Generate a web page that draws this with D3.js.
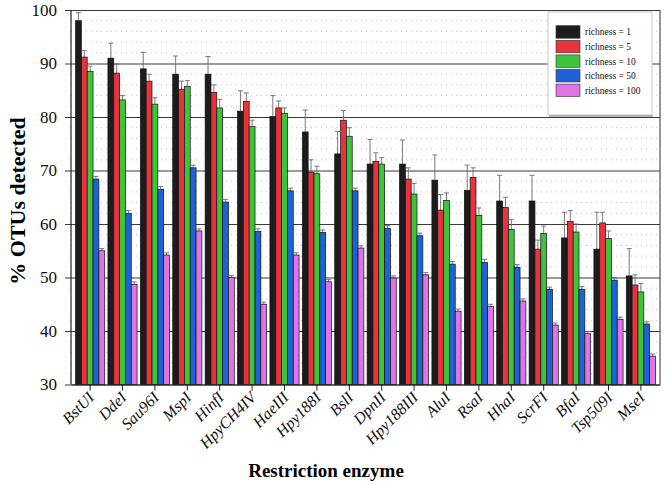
<!DOCTYPE html>
<html>
<head>
<meta charset="utf-8">
<script src="https://cdn.jsdelivr.net/npm/d3@7"></script>
<style>
  body { margin: 0; background: #fff; }
  svg text { font-family: "Liberation Serif", "Times New Roman", serif; }
</style>
</head>
<body>
<script>
// ----- data -----
const enzymes = ["BstUI","DdeI","Sau96I","MspI","HinfI","HpyCH4IV","HaeIII","Hpy188I","BslI",
                 "DpnII","Hpy188III","AluI","RsaI","HhaI","ScrFI","BfaI","Tsp509I","MseI"];
const seriesNames = ["richness = 1","richness = 5","richness = 10","richness = 50","richness = 100"];
const seriesColors = ["#1c1c1c","#e8333d","#3ec43a","#1f62d6","#df74e6"];

const rich1   = [98.0, 91.0, 89.0, 88.0, 88.0, 81.1, 80.1, 77.2, 73.1, 71.2, 71.2, 68.2, 66.3, 64.3, 64.3, 57.4, 55.3, 50.3];
const rich5   = [91.2, 88.2, 86.7, 85.2, 84.6, 82.9, 81.7, 69.7, 79.4, 71.7, 68.4, 62.6, 68.7, 63.1, 55.3, 60.5, 60.2, 48.6];
const rich10  = [88.5, 83.2, 82.4, 85.7, 81.7, 78.2, 80.7, 69.4, 76.4, 71.2, 65.6, 64.4, 61.6, 59.0, 58.2, 58.5, 57.3, 47.3];
const rich50  = [68.4, 62.0, 66.5, 70.5, 64.1, 58.6, 66.2, 58.4, 66.2, 59.2, 57.8, 52.5, 52.8, 51.9, 47.8, 47.8, 49.5, 41.3];
const rich100 = [55.0, 48.7, 54.2, 58.7, 50.0, 45.0, 54.2, 49.2, 55.5, 49.9, 50.5, 43.7, 44.6, 45.6, 41.1, 39.5, 42.2, 35.3];

// top of the error bars
const err1   = [99.5, 93.8, 92.1, 91.4, 91.3, 84.9, 84.0, 81.3, 77.3, 75.8, 75.7, 72.9, 71.0, 69.1, 69.1, 62.2, 62.2, 55.4];
const err5   = [92.4, 89.9, 88.0, 86.7, 86.0, 84.5, 83.0, 72.0, 81.2, 73.3, 70.5, 65.5, 70.5, 65.0, 57.0, 62.5, 62.2, 50.5];
const err10  = [89.5, 84.0, 83.6, 86.8, 83.3, 79.4, 81.7, 70.8, 78.0, 72.4, 67.6, 65.8, 63.0, 60.8, 59.6, 60.0, 58.7, 48.9];
const err50  = [68.9, 62.5, 67.0, 71.0, 64.6, 59.1, 66.7, 58.9, 66.7, 59.7, 58.3, 53.0, 53.4, 52.4, 48.2, 48.3, 50.0, 41.7];
const err100 = [55.4, 49.2, 54.6, 59.1, 50.4, 45.4, 54.6, 49.6, 55.9, 50.3, 50.9, 44.1, 45.0, 46.0, 41.5, 39.9, 42.6, 35.7];

const yTicks = [30, 40, 50, 60, 70, 80, 90, 100];

const values = [rich1, rich5, rich10, rich50, rich100];
const errors = [err1, err5, err10, err50, err100];

// ----- layout -----
const width = 666, height = 485;
const plotLeft = 71, plotRight = 660, plotTop = 10, plotBottom = 384.5;

const svg = d3.select("body").append("svg")
    .attr("width", width)
    .attr("height", height);

const x = d3.scaleBand().domain(enzymes).range([plotLeft, plotRight])
    .paddingInner(0.1).paddingOuter(0.14);
const xSub = d3.scaleBand().domain(d3.range(seriesNames.length)).range([0, x.bandwidth()]);
const y = d3.scaleLinear().domain([30, 100]).range([plotBottom, plotTop]);

// minor dotted gridlines
svg.append("g")
    .selectAll("line")
    .data(d3.range(32, 100, 2).filter(v => v % 10 !== 0))
    .join("line")
    .attr("x1", plotLeft).attr("x2", plotRight)
    .attr("y1", d => y(d)).attr("y2", d => y(d))
    .attr("stroke", "#b8b8b8")
    .attr("stroke-width", 0.8)
    .attr("stroke-dasharray", "1,4");

// major gridlines + y axis ticks
const yAxis = svg.append("g")
    .attr("transform", "translate(" + plotLeft + ",0)")
    .call(d3.axisLeft(y).tickValues(yTicks).tickSize(-(plotRight - plotLeft)).tickFormat(d3.format("d")));
yAxis.select(".domain").remove();
yAxis.selectAll(".tick line")
    .attr("x1", -6)
    .attr("stroke", "#3a3a3a")
    .attr("stroke-width", 1.1);
yAxis.selectAll(".tick text")
    .attr("font-size", 17)
    .attr("fill", "#111")
    .attr("x", -14);

// legend box, over the gridlines
const legend = svg.append("g");
legend.append("rect")
    .attr("x", 548).attr("y", 12)
    .attr("width", 104).attr("height", 103)
    .attr("fill", "#fff")
    .attr("stroke", "#c8c8c8")
    .attr("stroke-width", 1);
legend.append("line")
    .attr("x1", 549).attr("x2", 653).attr("y1", 116).attr("y2", 116)
    .attr("stroke", "#777").attr("stroke-width", 1.2);

// bars
const groups = svg.append("g")
    .selectAll("g")
    .data(enzymes)
    .join("g")
    .attr("transform", d => "translate(" + x(d) + ",0)");

groups.each(function(name, i) {
    const g = d3.select(this);
    values.forEach((vals, s) => {
        const bx = xSub(s);
        const bw = xSub.bandwidth();
        // error bar
        g.append("line")
            .attr("x1", bx + bw / 2).attr("x2", bx + bw / 2)
            .attr("y1", y(vals[i])).attr("y2", y(errors[s][i]))
            .attr("stroke", "#6a6a6a").attr("stroke-width", 0.9);
        g.append("line")
            .attr("x1", bx + bw / 2 - 2.5).attr("x2", bx + bw / 2 + 2.5)
            .attr("y1", y(errors[s][i])).attr("y2", y(errors[s][i]))
            .attr("stroke", "#6a6a6a").attr("stroke-width", 0.9);
        g.append("rect")
            .attr("x", bx).attr("width", bw)
            .attr("y", y(vals[i]))
            .attr("height", plotBottom - y(vals[i]))
            .attr("fill", seriesColors[s])
            .attr("stroke", "#111")
            .attr("stroke-width", 0.7);
    });
});

// frame: left and right lines
svg.append("line")
    .attr("x1", plotLeft).attr("x2", plotLeft).attr("y1", plotTop).attr("y2", plotBottom)
    .attr("stroke", "#222").attr("stroke-width", 1.2);
svg.append("line")
    .attr("x1", plotRight).attr("x2", plotRight).attr("y1", plotTop).attr("y2", plotBottom)
    .attr("stroke", "#444").attr("stroke-width", 1.1);

// x axis
const xAxis = svg.append("g")
    .attr("transform", "translate(0," + plotBottom + ")")
    .call(d3.axisBottom(x).tickSize(6).tickSizeOuter(0));
xAxis.select(".domain").attr("stroke", "#222").attr("stroke-width", 1.2);
xAxis.selectAll(".tick line").attr("stroke", "#222");
xAxis.selectAll(".tick text")
    .attr("font-size", 16)
    .attr("font-style", "italic")
    .attr("fill", "#111")
    .attr("text-anchor", "end")
    .attr("dy", null)
    .attr("x", 0).attr("y", 0)
    .attr("transform", "translate(5,14) rotate(-45)");

// legend entries
const items = legend.selectAll(".item")
    .data(seriesNames)
    .join("g")
    .attr("class", "item")
    .attr("transform", (d, i) => "translate(556," + (25.7 + i * 14.6) + ")");
items.append("rect")
    .attr("width", 24).attr("height", 12.5)
    .attr("fill", (d, i) => seriesColors[i])
    .attr("stroke", "#333").attr("stroke-width", 0.6);
items.append("text")
    .attr("x", 29).attr("y", 9.8)
    .attr("font-size", 9.5)
    .attr("fill", "#111")
    .text(d => d);

// axis titles
svg.append("text")
    .attr("x", 326).attr("y", 477)
    .attr("text-anchor", "middle")
    .attr("font-size", 19)
    .attr("font-weight", "bold")
    .text("Restriction enzyme");

svg.append("text")
    .attr("transform", "translate(25,201) rotate(-90)")
    .attr("text-anchor", "middle")
    .attr("font-size", 22)
    .attr("font-weight", "bold")
    .text("% OTUs detected");
</script>
</body>
</html>
